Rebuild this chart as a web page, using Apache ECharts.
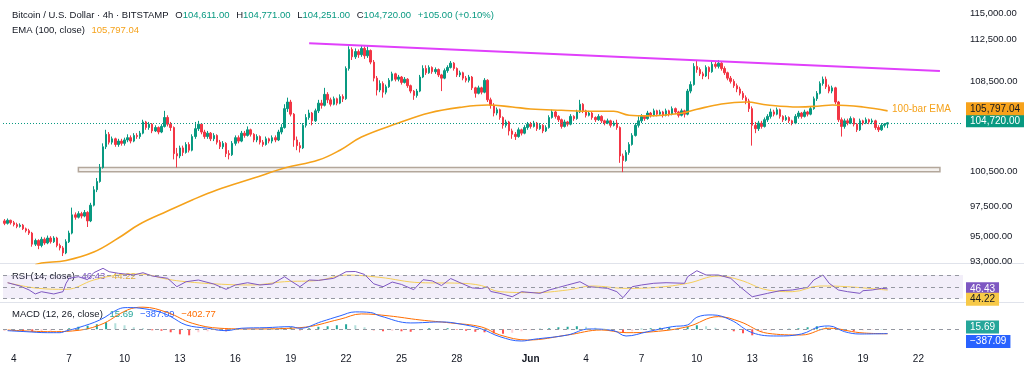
<!DOCTYPE html>
<html><head><meta charset="utf-8">
<script src="https://cdn.jsdelivr.net/npm/echarts@6/dist/echarts.min.js"></script>
<style>html,body{margin:0;padding:0;background:#fff}#c{width:1024px;height:371px}</style>
</head><body><div id="c"></div>
<script>
// ---------- DATA ----------
// 4h candles BTC/USD, first candle May 3 2025 12:00, format [open, close, low, high]
const candles = [
[96300,96100,95950,96450],[96100,96350,96000,96500],[96350,96150,96000,96400],
[96150,96000,95850,96300],[96000,95850,95700,96150],[95850,95950,95750,96100],[95950,95650,95550,96050],[95650,95500,95350,95750],[95500,95300,95150,95650],
[95300,94400,94200,95400],[94400,94700,94250,94850],[94700,94300,94000,94800],[94300,94800,94150,95000],[94800,94500,94350,94950],[94500,94900,94400,95100],
[94900,94600,94450,95050],[94600,94900,94500,95050],[94900,94300,94150,95000],[94300,94100,93900,94450],[94100,93700,93450,94250],[93700,94600,93600,94800],
[94600,95300,94500,95500],[95300,96800,95200,97400],[96800,96600,96400,97000],[96600,96900,96500,97100],[96900,96700,96500,97050],[96700,97000,96600,97200],
[97000,96300,95800,97100],[96300,97600,96200,97800],[97600,98900,97500,99200],[98900,99600,98700,99900],[99600,100800,99500,101100],[100800,102600,100700,102900],
[102600,103700,102400,104100],[103700,103000,102800,103900],[103000,103300,102800,103500],[103300,102800,102600,103400],[102800,103100,102600,103300],[103100,102900,102700,103300],
[102900,103200,102700,103400],[103200,103400,103000,103700],[103400,103100,102900,103600],[103100,103600,103000,103800],[103600,103500,103300,103800],[103500,103800,103300,104000],
[103800,104800,103700,105000],[104800,104300,104100,104900],[104300,104600,104100,104800],[104600,104000,103800,104700],[104000,104300,103900,104500],[104300,103900,103700,104400],
[103900,104400,103800,104600],[104400,105200,104300,105800],[105200,104600,104400,105400],[104600,104300,104000,104800],[104300,102000,101500,104400],[102000,101800,100800,102500],
[101800,102500,101600,102700],[102500,102100,101800,102700],[102100,102800,102000,103000],[102800,102300,102100,103000],[102300,103500,102200,103700],[103500,104200,103300,104800],
[104200,104600,104000,104900],[104600,103900,103700,104700],[103900,103500,103300,104100],[103500,103800,103300,104000],[103800,103300,103100,103900],[103300,103600,103100,103800],
[103600,103000,102800,103700],[103000,102600,102400,103200],[102600,102900,102400,103100],[102900,102000,101700,103000],[102000,101900,101500,102300],[101900,102900,101800,103100],
[102900,103400,102700,103600],[103400,103100,102900,103600],[103100,103800,103000,104000],[103800,103600,103400,104000],[103600,104100,103500,104400],[104100,103700,103500,104200],
[103700,103200,103000,103800],[103200,103500,103000,103700],[103500,103000,102800,103600],[103000,102800,102600,103200],[102800,103300,102700,103500],[103300,103100,102900,103400],
[103100,103400,102900,103600],[103400,103200,103000,103600],[103200,103900,103100,104100],[103900,104300,103700,104600],[104300,106000,104200,106400],[106000,106600,105700,107000],
[106600,105500,105300,106800],[105500,103200,102600,105600],[103200,102700,102300,103500],[102700,102500,102100,103000],[102500,104500,102400,104700],[104500,105200,104300,105500],
[105200,105600,105000,105900],[105600,104900,104500,105700],[104900,105800,104800,106000],[105800,106500,105600,106800],[106500,106300,106000,106800],[106300,107300,106200,107900],
[107300,106800,106500,107500],[106800,106400,106200,107000],[106400,106900,106300,107100],[106900,106500,106300,107000],[106500,107100,106400,107300],[107100,106900,106600,107300],
[106900,109700,106800,109900],[109700,111500,109500,111800],[111500,110800,110500,111700],[110800,111300,110600,111600],[111300,111000,110700,111500],[111000,111600,110800,111900],
[111600,110900,110600,111800],[110900,111400,110700,111800],[111400,110300,110100,111500],[110300,108800,108500,110500],[108800,107700,107200,109000],[107700,108300,107500,108600],
[108300,107500,107000,108500],[107500,108000,107300,108200],[108000,108600,107900,108800],[108600,109200,108500,109400],[109200,108700,108500,109300],[108700,108900,108500,109100],
[108900,108400,108200,109000],[108400,108700,108300,108900],[108700,108100,107900,108800],[108100,107600,107400,108200],[107600,107200,106800,107700],[107200,107600,107000,107800],
[107600,108900,107500,109100],[108900,109700,108800,110000],[109700,109300,109100,110000],[109300,109800,109200,110000],[109800,109400,109200,109900],[109400,109600,109200,109800],
[109600,109100,108900,109700],[109100,108800,107600,109200],[108800,109500,108700,109700],[109500,109800,109300,110000],[109800,110200,109700,110400],[110200,109700,109500,110300],
[109700,109100,108900,109800],[109100,109300,108900,109500],[109300,108800,108600,109400],[108800,108600,108400,109000],[108600,108900,108400,109100],[108900,107900,107700,109000],
[107900,107400,107000,108000],[107400,107900,107300,108100],[107900,107500,107300,108000],[107500,108600,107400,108800],[108600,106800,106600,108700],[106800,106300,106000,107000],
[106300,105600,105300,106500],[105600,105900,105400,106100],[105900,105200,105000,106000],[105200,104500,104200,105300],[104500,104800,104300,105000],[104800,104000,103600,104900],
[104000,103700,103300,104200],[103700,103500,103200,103900],[103500,104100,103400,104300],[104100,103800,103600,104200],[103800,104300,103700,104500],[104300,104600,104100,104800],
[104600,104400,104200,104800],[104400,104700,104300,104900],[104700,104200,104000,104800],[104200,104500,104100,104700],[104500,104000,103800,104600],[104000,104300,103900,104500],
[104300,105200,104200,105400],[105200,105700,105100,105900],[105700,105300,105100,105800],[105300,105000,104800,105400],[105000,104400,104200,105100],[104400,104800,104300,105000],
[104800,104600,104400,104900],[104600,105300,104500,105500],[105300,105100,104900,105400],[105100,105700,105000,105900],[105700,106400,105600,106800],[106400,105800,105600,106500],
[105800,105400,105200,105900],[105400,105600,105300,105800],[105600,105200,105000,105700],[105200,105000,104800,105300],[105000,105300,104900,105500],[105300,104900,104700,105400],
[104900,104700,104500,105000],[104700,104900,104600,105100],[104900,104500,104300,105000],[104500,104700,104400,104900],[104700,104300,104100,105000],[104300,101800,101200,104400],
[101800,101400,100400,102000],[101400,102100,101300,102300],[102100,102800,101900,103000],[102800,103600,102700,103800],[103600,104500,103500,104700],[104500,104900,104300,105300],
[104900,105300,104700,105500],[105300,105100,104900,105400],[105100,105600,105000,105800],[105600,105400,105200,105700],[105400,105800,105300,106000],[105800,105500,105300,105900],
[105500,105700,105400,105900],[105700,105400,105200,105800],[105400,105800,105300,106000],[105800,105500,105300,105900],[105500,106000,105400,106200],[106000,105700,105500,106100],
[105700,105400,105200,105800],[105400,105800,105300,106000],[105800,105500,105200,105900],[105500,107600,105400,107800],[107600,108200,107400,108500],[108200,109900,108100,110200],
[109900,109600,109300,110400],[109600,109200,109000,109800],[109200,109000,108700,109400],[109000,109800,108900,110000],[109800,109400,108700,109900],[109400,110100,109300,110400],
[110100,109900,109700,110400],[109900,110200,109700,110500],[110200,109700,109500,110300],[109700,109300,109100,109900],[109300,108800,108600,109400],[108800,108500,108300,109000],
[108500,108100,107900,108700],[108100,107800,107500,108300],[107800,107400,107200,108000],[107400,107000,106800,107600],[107000,106700,106400,107200],[106700,106000,105700,106900],
[106000,104500,102700,106200],[104500,104200,103800,104800],[104200,104700,104000,104900],[104700,104400,104200,104900],[104400,105000,104300,105200],[105000,105300,104800,105500],
[105300,105700,105100,106000],[105700,105500,105300,105900],[105500,105900,105400,106100],[105900,105300,105100,106000],[105300,105000,104800,105400],[105000,105200,104900,105400],
[105200,104900,104700,105300],[104900,104700,104500,105000],[104700,105300,104600,105500],[105300,105600,105100,105800],[105600,105300,105100,105700],[105300,105700,105200,105900],
[105700,105500,105300,105800],[105500,106000,105400,106200],[106000,106900,105900,107100],[106900,107400,106700,107600],[107400,108300,107300,108500],[108300,108700,108100,108950],
[108700,108000,107800,108950],[108000,107600,107400,108200],[107600,107900,107400,108100],[107900,106600,106400,108000],[106600,105000,104800,106700],[105000,104400,103500,105200],
[104400,104900,104200,105100],[104900,104700,104500,105100],[104700,105100,104600,105300],[105100,104600,104400,105200],[104600,104100,103900,104700],[104100,104900,104000,105100],
[104900,104700,104500,105000],[104700,105000,104600,105200],[105000,104800,104600,105100],[104800,104900,104600,105100],[104900,104300,104100,105000],[104300,104100,103900,104500],
[104100,104500,104000,104700],[104500,104611,104300,104700],[104611,104720,104251,104771]
];
// EMA(100) points [candleIndex, value]
const emaPoints = [[10,92750],[12,92900],[20,93100],[29,93770],[37,94900],[44,96040],[53,97110],[61,98040],[69,98880],[81,99890],[91,100750],[102,101440],[109,102300],[116,103460],[128,104700],[138,105610],[149,106150],[157,106330],[165,106150],[171,105970],[181,105850],[191,105760],[198,105760],[203,105400],[209,105350],[220,105580],[225,105940],[233,106420],[241,106600],[248,106330],[258,106150],[265,106240],[269,106330],[279,106150],[287,105797.04]];
// RSI(14) and its MA
const rsiPoints = [[1,56.9],[5,51.3],[8,44.5],[10,37.7],[12,41.6],[16,37.7],[19,41.6],[20,55.9],[21,64.4],[24,67.1],[27,62],[29,73.9],[32,81.4],[34,75.6],[37,72.9],[42,70],[45,73.9],[48,68.3],[53,64.4],[56,50.1],[59,58.6],[63,61.5],[68,54.7],[72,45.6],[75,53],[79,56.9],[83,53],[87,54.7],[91,67.1],[93,60],[96,50.1],[99,61.5],[102,60.8],[107,64.4],[111,75.6],[114,76],[117,71],[120,55],[123,50],[126,58],[129,54],[133,45],[136,62],[139,60],[142,52],[145,64],[148,57],[152,48],[155,47],[157,50],[158,42],[161,38.8],[165,33],[168,41.6],[174,38.8],[177,44.5],[183,53],[187,58.6],[190,50.1],[196,47.3],[199,41.6],[201,31.4],[204,50.1],[207,53],[211,55.9],[215,56.9],[221,55.9],[222,67.1],[225,77.3],[228,70],[232,70],[236,64.4],[239,50.1],[243,33],[248,38.8],[252,43.3],[256,44.5],[261,49],[263,61.5],[266,70],[268,55.9],[271,44.5],[274,41.6],[278,38.8],[279,43.3],[282,44.5],[285,47.3],[287,46.43]];
const rsiMaPoints = [[1,56.9],[11,47.3],[20,45.6],[29,61.5],[37,70],[44,71.7],[53,62.7],[59,58.6],[69,54.7],[80,53],[91,58.6],[102,60.8],[111,70],[122,66],[135,57],[148,56],[155,52],[161,41.6],[172,40],[183,44.5],[191,51.3],[202,47.3],[212,49],[222,55.9],[232,68.3],[239,61.5],[248,44.5],[256,41.6],[265,51.3],[274,50.1],[287,44.22]];
// MACD(12,26) line, signal line, histogram (one bar every histStep candles)
const macdPoints = [[1,-126],[7,-216],[14,-306],[18,-306],[20,-153],[24,144],[31,837],[37,1800],[40,1944],[44,1890],[50,1584],[54,1134],[59,387],[66,90],[72,-126],[77,90],[85,144],[93,234],[96,90],[103,684],[109,1197],[114,1557],[119,1500],[122,1197],[132,567],[142,657],[148,477],[155,27],[161,-666],[168,-1053],[172,-900],[183,-513],[190,27],[198,-126],[202,-603],[209,-216],[217,234],[222,387],[225,1080],[230,1287],[236,837],[243,-306],[251,-603],[259,-423],[265,234],[268,297],[273,-216],[278,-423],[287,-387.09]];
const signalPoints = [[1,-63],[15,-216],[22,-153],[31,387],[40,1737],[45,1980],[53,1494],[61,540],[70,90],[80,27],[96,144],[109,900],[116,1377],[125,1197],[135,837],[145,567],[155,207],[161,-513],[170,-963],[183,-513],[194,-63],[202,-306],[211,-216],[222,234],[232,1134],[239,684],[248,-360],[259,-513],[268,90],[278,-306],[287,-402.77]];
const histStep = 3;
const histValues = [-90,-135,-180,-225,-180,-135,-90,90,225,315,
450,630,540,360,180,90,-90,-135,-270,-450,
-540,-270,-180,-135,-180,-90,-45,-45,45,45,
135,180,-90,90,225,270,360,450,360,180,
-90,-180,-135,-180,-225,-90,90,45,90,-45,
-135,-225,-270,-360,-405,-315,-180,-90,45,90,
180,225,270,225,135,45,-90,-315,-180,45,
90,135,180,135,225,360,270,135,45,-180,
-360,-540,-270,-135,-45,45,90,180,270,225,
45,-135,-180,-90,-45,16];
// drawings
const resistanceLine = [[99,112090],[304,109460]];
const supportZone = {from:24, to:304, top:100795, bottom:100434};
// axis ticks
const priceTicks = [93000,95000,97500,100500,108500,112500,115000];
const tickDates = ['2025-05-04','2025-05-07','2025-05-10','2025-05-13','2025-05-16','2025-05-19','2025-05-22','2025-05-25','2025-05-28','2025-06-01','2025-06-04','2025-06-07','2025-06-10','2025-06-13','2025-06-16','2025-06-19','2025-06-22'];
const tickLabels = ['4','7','10','13','16','19','22','25','28','Jun','4','7','10','13','16','19','22'];
const last = {open:104611, high:104771, low:104251, close:104720, change:105, pct:0.10, ema:105797.04, rsi:46.43, rsiMa:44.22, hist:15.69, macd:-387.09, signal:-402.77};
const slotCount = 312;

// ---------- BUILD ----------
const FONT = "'Liberation Sans', Arial, sans-serif";
const LFS = 9.5;
const startMs = Date.UTC(2025,4,3,12);
const cats = [];
for (let c = 0; c < slotCount; c++) cats.push(new Date(startMs + c*4*3600e3).toISOString().slice(0,13));
const tickMap = {};
tickDates.forEach((d,k) => tickMap[d + 'T00'] = tickLabels[k]);
const fmt = (v, d=2) => v.toLocaleString('en-US',{minimumFractionDigits:d, maximumFractionDigits:d});
const fmtS = v => (v < 0 ? '\u2212' : '') + fmt(Math.abs(v));

const histData = histValues.map((v,k) => {
  const prev = k > 0 ? histValues[k-1] : 0;
  let col;
  if (v >= 0) col = v >= prev ? '#26a69a' : '#b2dfdb';
  else col = v < prev ? '#ff5252' : '#ffcdd2';
  return {value:[k*histStep, v], itemStyle:{color:col}};
});

const CLEAR = 'rgba(0,0,0,0)';
function boxLabel(text, bg, fg, dy) {
  return {show:true, position:'end', formatter:text, backgroundColor:bg, color:fg, fontFamily:FONT, fontSize:10, padding:[2,4,1,4], distance:3, offset:[0,dy||0]};
}
function hiddenLine(value, label) {
  return {silent:true, symbol:'none', animation:false, lineStyle:{color:CLEAR, width:1}, data:[{yAxis:value, label:label, lineStyle:{color:CLEAR}}]};
}
function rs(col) { return {fill:col, fontSize:LFS, fontFamily:FONT}; }

const gridL = 3, gridR = 61;
const xBase = {type:'category', data:cats, boundaryGap:true, axisLine:{show:false}, axisTick:{show:false}, splitLine:{show:false}};
const option = {
  animation:false,
  backgroundColor:'#ffffff',
  grid:[
    {left:gridL, right:gridR, top:0, height:263.5},
    {left:gridL, right:gridR, top:263.5, height:39},
    {left:gridL, right:gridR, top:302.5, height:43.5}
  ],
  xAxis:[
    Object.assign({}, xBase, {gridIndex:0, axisLabel:{show:false}}),
    Object.assign({}, xBase, {gridIndex:1, axisLabel:{show:false}}),
    Object.assign({}, xBase, {gridIndex:2, axisLabel:{
      show:true, interval:(i, v) => tickMap[v] !== undefined, formatter:v => tickMap[v] === 'Jun' ? '{b|Jun}' : tickMap[v],
      color:'#131722', fontSize:10, fontFamily:FONT, margin:8, rich:{b:{fontWeight:'bold', color:'#131722', fontSize:10, fontFamily:FONT}}}})
  ],
  yAxis:[
    {type:'log', logBase:10, gridIndex:0, position:'right', min:92856, max:116315,
     axisLine:{show:false}, axisTick:{show:false}, splitLine:{show:false}, minorSplitLine:{show:false},
     axisLabel:{customValues:priceTicks, formatter:v => fmt(v), color:'#131722', fontSize:9.5, fontFamily:FONT, margin:7}},
    {type:'value', gridIndex:1, position:'right', min:23.2, max:89.6, axisLine:{show:false}, axisTick:{show:false}, splitLine:{show:false}, axisLabel:{show:false}},
    {type:'value', gridIndex:2, position:'right', min:-1500, max:2400, axisLine:{show:false}, axisTick:{show:false}, splitLine:{show:false}, axisLabel:{show:false}}
  ],
  series:[
    {type:'candlestick', xAxisIndex:0, yAxisIndex:0, data:candles, barWidth:2,
     itemStyle:{color:'#089981', color0:'#f23645', borderColor:'#089981', borderColor0:'#f23645', borderWidth:1},
     markArea:{silent:true, itemStyle:{color:'#f4f1ee', borderColor:'#b3a79b', borderWidth:1.5},
       data:[[{xAxis:supportZone.from, yAxis:supportZone.top},{xAxis:supportZone.to, yAxis:supportZone.bottom}]]},
     markLine:{silent:true, symbol:'none', animation:false, lineStyle:{color:'#089981', type:[1,2], width:1},
       data:[{yAxis:last.close, label:boxLabel(fmt(last.close), '#089981', '#ffffff', -2)}]}
    },
    {type:'line', xAxisIndex:0, yAxisIndex:0, data:emaPoints, smooth:0.4, symbol:'none', lineStyle:{color:'#f5a21b', width:1.6}, z:3,
     markLine:hiddenLine(last.ema, boxLabel(fmt(last.ema), '#f7a21b', '#131722', -2)),
     markPoint:{silent:true, symbol:'circle', symbolSize:0, data:[{coord:[298,105960], label:{show:true, position:'inside', formatter:'100-bar EMA', color:'#f5a21b', fontSize:10, fontFamily:FONT}}]}
    },
    {type:'line', xAxisIndex:0, yAxisIndex:0, data:resistanceLine, symbol:'none', lineStyle:{color:'#e040fb', width:2}, z:4},
    {type:'line', xAxisIndex:1, yAxisIndex:1, data:rsiPoints, symbol:'none', lineStyle:{color:'#7e57c2', width:1}, z:4,
     markArea:{silent:true, itemStyle:{color:'rgba(126,87,194,0.1)'}, data:[[{yAxis:70},{yAxis:30}]]},
     markLine:{silent:true, symbol:'none', animation:false, lineStyle:{color:'#9598a1', type:[4,4], width:1}, label:{show:false},
       data:[{yAxis:70},{yAxis:50},{yAxis:30},
             {yAxis:last.rsi, lineStyle:{color:CLEAR}, label:boxLabel(fmt(last.rsi), '#7e57c2', '#ffffff', 0)}]}
    },
    {type:'line', xAxisIndex:1, yAxisIndex:1, data:rsiMaPoints, smooth:0.4, symbol:'none', lineStyle:{color:'#f5cf5a', width:1}, z:3,
     markLine:hiddenLine(last.rsiMa, boxLabel(fmt(last.rsiMa), '#f7c948', '#131722', 9))},
    {type:'bar', xAxisIndex:2, yAxisIndex:2, data:histData, barWidth:2, z:2,
     markLine:{silent:true, symbol:'none', animation:false, lineStyle:{color:'#9598a1', type:[4,4], width:1}, label:{show:false},
       data:[{yAxis:0}, {yAxis:last.hist, lineStyle:{color:CLEAR}, label:boxLabel(fmt(last.hist), '#26a69a', '#ffffff', -2)}]}
    },
    {type:'line', xAxisIndex:2, yAxisIndex:2, data:macdPoints, smooth:0.4, symbol:'none', lineStyle:{color:'#2962ff', width:1}, z:4,
     markLine:hiddenLine(last.macd, boxLabel(fmtS(last.macd), '#2962ff', '#ffffff', 8))},
    {type:'line', xAxisIndex:2, yAxisIndex:2, data:signalPoints, smooth:0.4, symbol:'none', lineStyle:{color:'#ff6d00', width:1}, z:3}
  ],
  graphic:[
    {type:'line', silent:true, shape:{x1:0, y1:263.5, x2:1024, y2:263.5}, style:{stroke:'#e0e3eb', lineWidth:1}},
    {type:'line', silent:true, shape:{x1:0, y1:302.5, x2:1024, y2:302.5}, style:{stroke:'#e0e3eb', lineWidth:1}},
    {type:'text', left:12, top:9, z:1, style:{
      text:'{t|Bitcoin / U.S. Dollar \u00b7 4h \u00b7 BITSTAMP}  {t|O}{g|' + fmt(last.open) + '}  {t|H}{g|' + fmt(last.high) + '}  {t|L}{g|' + fmt(last.low) + '}  {t|C}{g|' + fmt(last.close) + '}  {g|+' + fmt(last.change) + ' (+' + fmt(last.pct) + '%)}',
      rich:{t:rs('#131722'), g:rs('#089981')}}},
    {type:'text', left:12, top:24, z:1, style:{
      text:'{t|EMA (100, close)}  {o|' + fmt(last.ema) + '}',
      rich:{t:rs('#131722'), o:rs('#f5a21b')}}},
    {type:'text', left:12, top:270, z:1, style:{
      text:'{t|RSI (14, close)}  {p|' + fmt(last.rsi) + '}  {y|' + fmt(last.rsiMa) + '}',
      rich:{t:rs('#131722'), p:rs('#7e57c2'), y:rs('#e6b530')}}},
    {type:'text', left:12, top:308, z:1, style:{
      text:'{t|MACD (12, 26, close)}  {g|' + fmt(last.hist) + '}  {b|' + fmtS(last.macd) + '}  {o|' + fmtS(last.signal) + '}',
      rich:{t:rs('#131722'), g:rs('#26a69a'), b:rs('#2962ff'), o:rs('#ff6d00')}}}
  ]
};
const chart = echarts.init(document.getElementById('c'), null, {renderer:'canvas'});
chart.setOption(option);
</script></body></html>
